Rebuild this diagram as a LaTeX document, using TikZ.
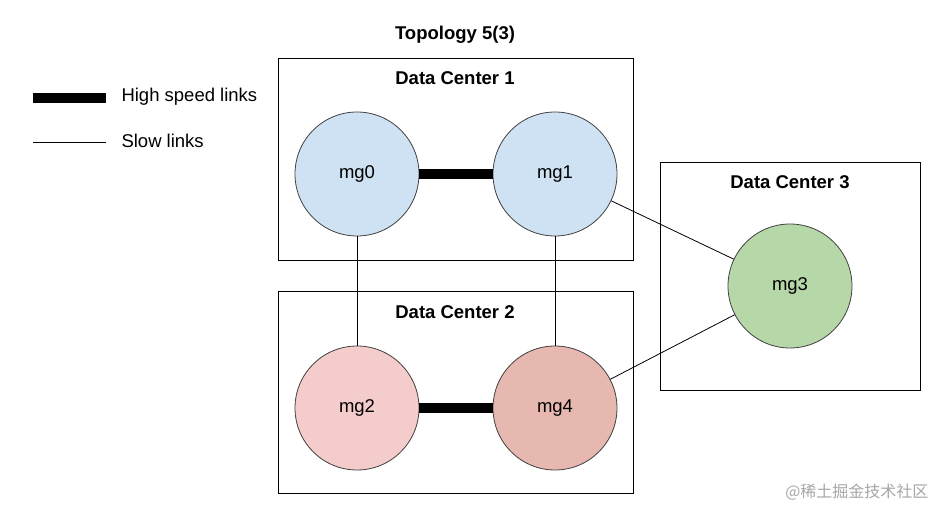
\documentclass[tikz,border=0pt]{standalone}
\usepackage{fontspec}
\setmainfont{Liberation Sans}
\newfontfamily\cjk{Noto Sans CJK SC}
\begin{document}
\begin{tikzpicture}[x=1pt,y=-1pt,
  box/.style={draw=black,line width=0.8pt},
  mg/.style={circle,draw=black!75,line width=0.8pt,minimum size=124pt,inner sep=0pt,font=\fontsize{18.5}{22}\selectfont},
  lbl/.style={font=\bfseries\fontsize{18.5}{22}\selectfont},
  fast/.style={line width=10pt,black},
  slow/.style={line width=0.8pt,black}]
\useasboundingbox (0,0) rectangle (938,508);
\node[lbl] (title) at (455,35) {Topology 5(3)};
\coordinate (h1) at (33,98); \coordinate (h2) at (106,98);
\draw[fast] (h1) -- (h2);
\node[anchor=west,font=\fontsize{18.5}{22}\selectfont] (hl) at (118,97) {High speed links};
\coordinate (s1) at (33,142); \coordinate (s2) at (106,142);
\draw[slow] (s1) -- (s2);
\node[anchor=west,font=\fontsize{18.5}{22}\selectfont] (sl) at (118,141) {Slow links};
\draw[box] (278,58) rectangle (633,260);
\draw[box] (278,291) rectangle (633,493);
\draw[box] (660,162) rectangle (920,390);
\node[lbl] (d1) at (455,78) {Data Center 1};
\node[lbl] (d2) at (455,312) {Data Center 2};
\node[lbl] (d3) at (790,182) {Data Center 3};
\node[mg,fill={rgb,255:red,207;green,226;blue,243}] (mg0) at (357,174) {mg0};
\node[mg,fill={rgb,255:red,207;green,226;blue,243}] (mg1) at (555,174) {mg1};
\node[mg,fill={rgb,255:red,244;green,204;blue,204}] (mg2) at (357,408) {mg2};
\node[mg,fill={rgb,255:red,230;green,184;blue,175}] (mg4) at (555,408) {mg4};
\node[mg,fill={rgb,255:red,182;green,215;blue,168}] (mg3) at (790,286) {mg3};
\draw[fast] (mg0) -- (mg1);
\draw[fast] (mg2) -- (mg4);
\draw[slow] (mg0) -- (mg2);
\draw[slow] (mg1) -- (mg4);
\draw[slow] (mg1) -- (mg3);
\draw[slow] (mg4) -- (mg3);
\node[anchor=east,text=black!35,font=\cjk\fontsize{16}{18}\selectfont] (wm) at (932,492) {@稀土掘金技术社区};
\end{tikzpicture}
\end{document}
